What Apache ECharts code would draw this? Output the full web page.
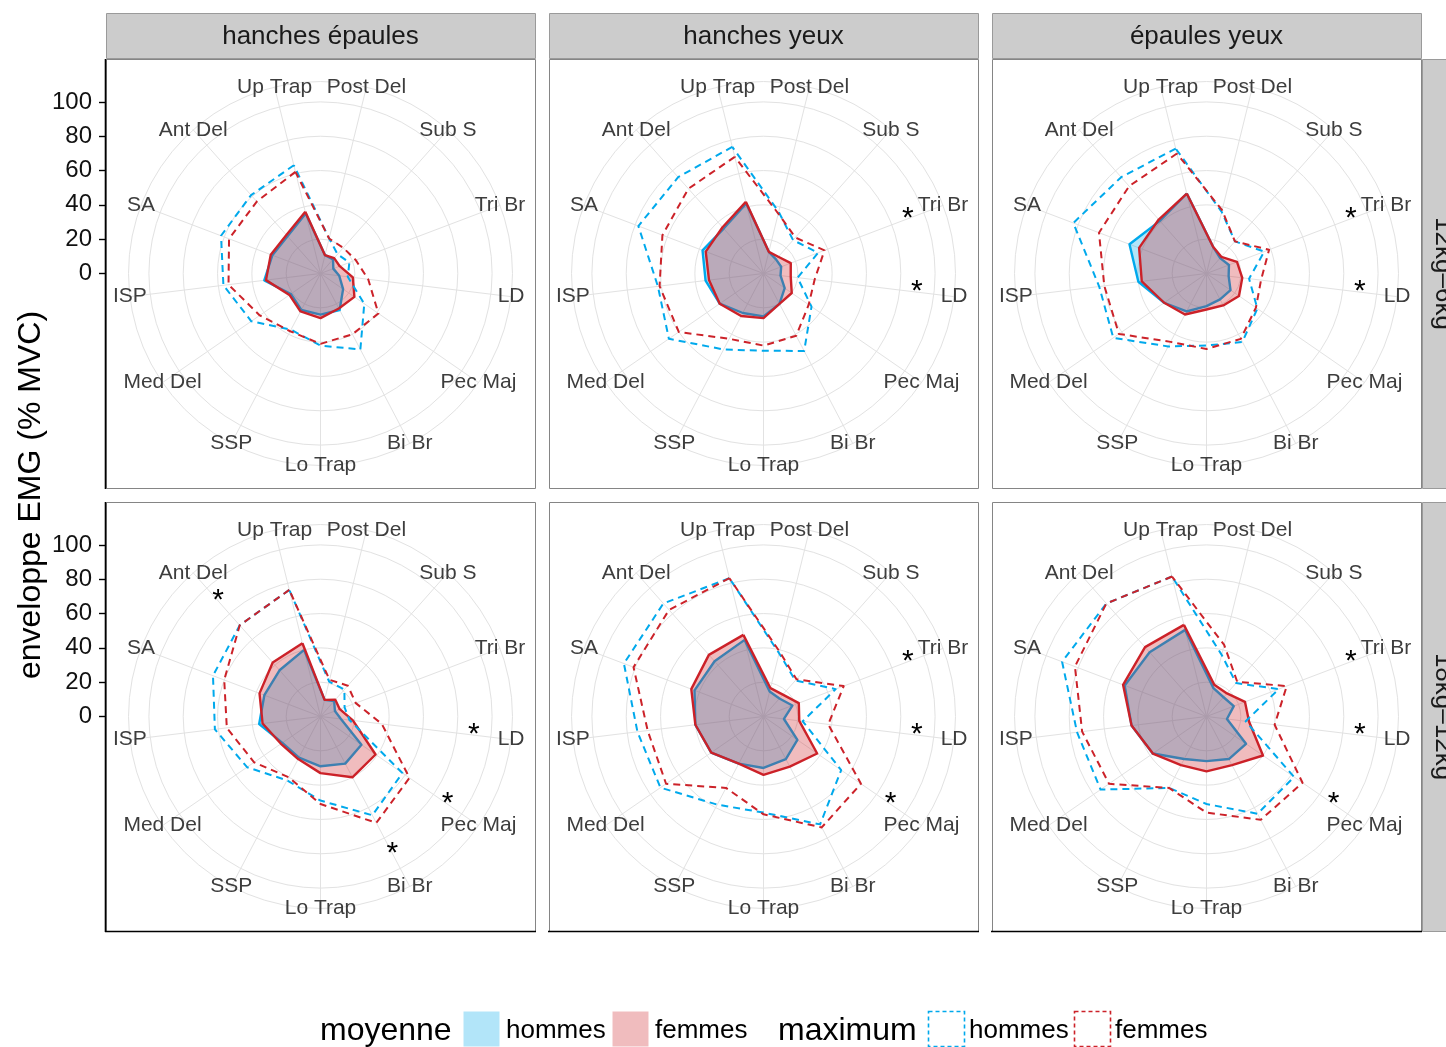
<!DOCTYPE html>
<html>
<head>
<meta charset="utf-8">
<script src="https://cdn.jsdelivr.net/npm/echarts@6/dist/echarts.min.js"></script>
<style>
  html, body { margin: 0; padding: 0; background: #ffffff; }
  #chart { width: 1446px; height: 1047px; }
</style>
</head>
<body>
<div id="chart"></div>
<script>
// Muscles, clockwise from the top of each radar
const muscles = ['Up Trap', 'Post Del', 'Sub S', 'Tri Br', 'LD', 'Pec Maj', 'Bi Br',
                 'Lo Trap', 'SSP', 'Med Del', 'ISP', 'SA', 'Ant Del'];
const conditions = ['hanches épaules', 'hanches yeux', 'épaules yeux'];
const loads = ['12kg–6kg', '18kg–12kg'];
const radialTicks = [0, 20, 40, 60, 80, 100];
const groupNames = ['hommes', 'femmes'];
const statNames = ['moyenne', 'maximum'];

// 12kg–6kg, hanches épaules
const moyH_6_he = [36, 11, 11, 8, 11, 16, 24, 24, 24, 21, 33, 30, 29];
const moyF_6_he = [37, 11, 12, 12, 19, 24, 23, 26, 25, 22, 32, 31, 30];
const maxH_6_he = [65, 21, 15, 18, 16, 31, 50, 42, 37, 49, 57, 62, 61];
const maxF_6_he = [61, 21, 20, 22, 28, 41, 40, 41, 38, 43, 54, 57, 56];
const sig_6_he = [];

// 12kg–6kg, hanches yeux
const moyH_6_hy = [42, 13, 11, 11, 10, 15, 20, 25, 26, 31, 34, 38, 35];
const moyF_6_hy = [43, 13, 13, 17, 16, 20, 20, 26, 28, 31, 32, 36, 36];
const maxH_6_hy = [76, 37, 26, 34, 20, 34, 51, 45, 50, 67, 62, 78, 75];
const maxF_6_hy = [70, 36, 28, 38, 30, 32, 41, 42, 43, 60, 61, 63, 66];
const sig_6_hy = ['Tri Br', 'LD'];

// 12kg–6kg, épaules yeux
const moyH_6_ey = [48, 16, 12, 14, 13, 17, 17, 19, 25, 30, 40, 48, 41];
const moyF_6_ey = [48, 16, 13, 19, 21, 23, 21, 21, 27, 30, 38, 42, 42];
const maxH_6_ey = [75, 37, 25, 36, 25, 36, 45, 42, 48, 66, 63, 83, 75];
const maxF_6_ey = [72, 38, 25, 39, 32, 35, 43, 44, 45, 62, 60, 67, 68];
const sig_6_ey = ['Tri Br', 'LD'];

// 18kg–12kg, hanches épaules
const moyH_12_he = [40, 10, 12, 9, 12, 29, 31, 29, 27, 27, 36, 35, 36];
const moyF_12_he = [44, 10, 13, 12, 19, 39, 40, 33, 28, 28, 34, 38, 42];
const maxH_12_he = [76, 21, 21, 15, 17, 58, 65, 49, 42, 52, 62, 67, 71];
const maxF_12_he = [76, 22, 24, 22, 36, 63, 70, 51, 40, 47, 55, 60, 71];
const sig_12_he = ['Ant Del', 'LD', 'Pec Maj', 'Bi Br'];

// 18kg–12kg, hanches yeux
const moyH_12_hy = [46, 15, 14, 18, 12, 24, 28, 30, 31, 37, 40, 43, 43];
const moyF_12_hy = [49, 17, 17, 22, 21, 38, 33, 34, 31, 37, 40, 45, 48];
const maxH_12_hy = [83, 38, 28, 45, 23, 55, 71, 56, 58, 73, 74, 87, 88];
const maxF_12_hy = [83, 39, 29, 50, 38, 69, 73, 57, 47, 69, 68, 81, 83];
const sig_12_hy = ['Tri Br', 'LD', 'Pec Maj'];

// 18kg–12kg, épaules yeux
const moyH_12_ey = [52, 17, 15, 17, 12, 28, 28, 26, 28, 38, 44, 51, 50];
const moyF_12_ey = [55, 19, 18, 24, 25, 40, 32, 32, 32, 38, 44, 52, 54];
const maxH_12_ey = [84, 37, 26, 45, 23, 62, 64, 51, 47, 75, 76, 90, 88];
const maxF_12_ey = [84, 43, 27, 50, 40, 68, 68, 56, 47, 69, 73, 82, 88];
const sig_12_ey = ['Tri Br', 'LD', 'Pec Maj'];

const panels = [
  { row: 0, col: 0, moyH: moyH_6_he,  moyF: moyF_6_he,  maxH: maxH_6_he,  maxF: maxF_6_he,  sig: sig_6_he },
  { row: 0, col: 1, moyH: moyH_6_hy,  moyF: moyF_6_hy,  maxH: maxH_6_hy,  maxF: maxF_6_hy,  sig: sig_6_hy },
  { row: 0, col: 2, moyH: moyH_6_ey,  moyF: moyF_6_ey,  maxH: maxH_6_ey,  maxF: maxF_6_ey,  sig: sig_6_ey },
  { row: 1, col: 0, moyH: moyH_12_he, moyF: moyF_12_he, maxH: maxH_12_he, maxF: maxF_12_he, sig: sig_12_he },
  { row: 1, col: 1, moyH: moyH_12_hy, moyF: moyF_12_hy, maxH: maxH_12_hy, maxF: maxF_12_hy, sig: sig_12_hy },
  { row: 1, col: 2, moyH: moyH_12_ey, moyF: moyF_12_ey, maxH: maxH_12_ey, maxF: maxF_12_ey, sig: sig_12_ey }
];

// ---- layout and style ----
const FONT = "'Liberation Sans', Arial, Helvetica, sans-serif";
const COL_X = [106, 549, 992];
const ROW_Y = [59, 502];
const PANEL = 429;
const R_SCALE = 171.6;      // radius of the 100 % circle, px
const R_OUTER = 192;        // outer ring carrying the muscle names, px
const STAR_LEVEL = 90;      // radial position of the significance stars
const HOMMES = '#00a9ec';
const FEMMES = '#cc2229';
const GRID = '#e2e2e2';
const DASH = [7, 5];

// ECharts lays indicators out counter-clockwise, so feed them in reverse
const order = [0].concat(muscles.slice(1).map((_, i) => muscles.length - 1 - i));
const toRadar = arr => order.map(i => arr[i]);
const START = 90 + 180 / muscles.length;

const radar = [];
const series = [];
const graphic = [];
const grid = [];
const xAxis = [];
const yAxis = [];

panels.forEach(p => {
  const cx = COL_X[p.col] + PANEL / 2;
  const cy = ROW_Y[p.row] + PANEL / 2;

  // outer ring, spokes and names
  radar.push({
    center: [cx, cy], radius: R_OUTER, startAngle: START, shape: 'circle', splitNumber: 1,
    indicator: order.map(i => ({ name: muscles[i], min: 0, max: 1 })),
    nameGap: 0,
    axisName: { show: true, color: '#3d3d3d', fontSize: 21, fontFamily: FONT, align: 'center', verticalAlign: 'middle' },
    axisLine: { show: true, lineStyle: { color: GRID, width: 1 } },
    splitLine: { show: true, lineStyle: { color: GRID, width: 1 } },
    splitArea: { show: false }, axisTick: { show: false }, axisLabel: { show: false }
  });
  // value scale 0–100
  const dataRadar = radar.length;
  radar.push({
    center: [cx, cy], radius: R_SCALE, startAngle: START, shape: 'circle', splitNumber: radialTicks.length - 1,
    indicator: order.map(i => ({ name: muscles[i], min: radialTicks[0], max: radialTicks[radialTicks.length - 1] })),
    axisName: { show: false },
    axisLine: { show: false },
    splitLine: { show: true, lineStyle: { color: GRID, width: 1 } },
    splitArea: { show: false }, axisTick: { show: false }, axisLabel: { show: false }
  });

  const filled = (vals, color) => ({
    type: 'radar', radarIndex: dataRadar, symbol: 'none', silent: true,
    data: [{ value: toRadar(vals),
             lineStyle: { color: color, width: 2.4 },
             itemStyle: { color: color },
             areaStyle: { color: color, opacity: 0.3 } }]
  });
  const dashed = (vals, color) => ({
    type: 'radar', radarIndex: dataRadar, symbol: 'none', silent: true,
    data: [{ value: toRadar(vals),
             lineStyle: { color: color, width: 2, type: DASH },
             itemStyle: { color: color } }]
  });
  series.push(filled(p.moyH, HOMMES));
  series.push(filled(p.moyF, FEMMES));
  series.push(dashed(p.maxH, HOMMES));
  series.push(dashed(p.maxF, FEMMES));

  // significance stars
  const starVals = muscles.map(m => (p.sig.indexOf(m) >= 0 ? STAR_LEVEL : 0));
  series.push({
    type: 'radar', radarIndex: dataRadar, symbol: 'circle', symbolSize: 0.1, silent: true,
    data: [{ value: toRadar(starVals),
             lineStyle: { opacity: 0, width: 0 },
             itemStyle: { color: '#000' },
             label: { show: true, position: 'inside', fontSize: 30, fontFamily: FONT, color: '#000',
                      formatter: prm => (prm.value > 0 ? '*' : '') } }]
  });

  // panel frame
  graphic.push({ type: 'rect', z: 50, silent: true,
    shape: { x: COL_X[p.col] + 0.5, y: ROW_Y[p.row] + 0.5, width: PANEL, height: PANEL },
    style: { fill: 'none', stroke: '#858585', lineWidth: 1 } });
});

// radial value axis on the left of each row
ROW_Y.forEach((ry, r) => {
  const cy = ry + PANEL / 2;
  grid.push({ left: COL_X[0], top: cy - R_SCALE, width: 10, height: R_SCALE });
  xAxis.push({ type: 'value', gridIndex: r, show: false });
  yAxis.push({
    type: 'value', gridIndex: r, min: radialTicks[0], max: radialTicks[radialTicks.length - 1],
    interval: radialTicks[1] - radialTicks[0],
    axisLine: { show: false },
    axisTick: { show: true, length: 7, lineStyle: { color: '#000', width: 1.4 } },
    axisLabel: { show: true, fontSize: 24, fontFamily: FONT, color: '#111', margin: 14 },
    splitLine: { show: false }
  });
  // axis line along the left panel
  graphic.push({ type: 'line', z: 60, silent: true,
    shape: { x1: COL_X[0] - 0.5, y1: ry, x2: COL_X[0] - 0.5, y2: ry + PANEL + 1 },
    style: { stroke: '#000', lineWidth: 1.6 } });
});
// bottom axis line of the lower row
COL_X.forEach(x => {
  graphic.push({ type: 'line', z: 60, silent: true,
    shape: { x1: x - 1, y1: ROW_Y[1] + PANEL + 0.5, x2: x + PANEL + 1, y2: ROW_Y[1] + PANEL + 0.5 },
    style: { stroke: '#000', lineWidth: 1.6 } });
});

// strips
conditions.forEach((c, i) => {
  graphic.push({ type: 'rect', silent: true,
    shape: { x: COL_X[i] + 0.5, y: 13.5, width: PANEL, height: 45 },
    style: { fill: '#cccccc', stroke: '#9a9a9a', lineWidth: 1 } });
  graphic.push({ type: 'text', silent: true, x: COL_X[i] + PANEL / 2, y: 37,
    style: { text: c, font: '26px ' + FONT, fill: '#1a1a1a', align: 'center', verticalAlign: 'middle',
             textAlign: 'center', textVerticalAlign: 'middle' } });
});
loads.forEach((l, r) => {
  graphic.push({ type: 'rect', silent: true,
    shape: { x: COL_X[2] + PANEL + 1.5, y: ROW_Y[r] + 0.5, width: 45, height: PANEL },
    style: { fill: '#cccccc', stroke: '#9a9a9a', lineWidth: 1 } });
  graphic.push({ type: 'text', silent: true, x: COL_X[2] + PANEL + 22.5, y: ROW_Y[r] + PANEL / 2,
    rotation: -Math.PI / 2,
    style: { text: l, font: '26px ' + FONT, fill: '#1a1a1a', align: 'center', verticalAlign: 'middle',
             textAlign: 'center', textVerticalAlign: 'middle' } });
});

// y-axis title
graphic.push({ type: 'text', silent: true, x: 31, y: 495, rotation: Math.PI / 2,
  style: { text: 'enveloppe EMG (% MVC)', font: '32px ' + FONT, fill: '#000', align: 'center', verticalAlign: 'middle',
           textAlign: 'center', textVerticalAlign: 'middle' } });

// legend
const LEG_Y = 1031;
function legText(x, text, size) {
  graphic.push({ type: 'text', silent: true, x: x, y: LEG_Y,
    style: { text: text, font: size + 'px ' + FONT, fill: '#000', align: 'left', verticalAlign: 'middle',
             textAlign: 'left', textVerticalAlign: 'middle' } });
}
function legKey(x, color, isFill) {
  graphic.push({ type: 'rect', silent: true,
    shape: { x: x + 0.5, y: 1011.5, width: 36, height: 35 },
    style: isFill ? { fill: color, opacity: 0.3, stroke: 'none' }
                  : { fill: 'none', stroke: color, lineWidth: 1.6, lineDash: [4, 3] } });
}
legText(320, statNames[0], 32);
legKey(463, HOMMES, true);  legText(506, groupNames[0], 26);
legKey(612, FEMMES, true);  legText(655, groupNames[1], 26);
legText(778, statNames[1], 32);
legKey(928, HOMMES, false); legText(969, groupNames[0], 26);
legKey(1074, FEMMES, false); legText(1115, groupNames[1], 26);

const chart = echarts.init(document.getElementById('chart'), null, { renderer: 'canvas' });
chart.setOption({
  backgroundColor: '#ffffff',
  animation: false,
  textStyle: { fontFamily: FONT },
  radar: radar,
  grid: grid,
  xAxis: xAxis,
  yAxis: yAxis,
  series: series,
  graphic: graphic
});
</script>
</body>
</html>
